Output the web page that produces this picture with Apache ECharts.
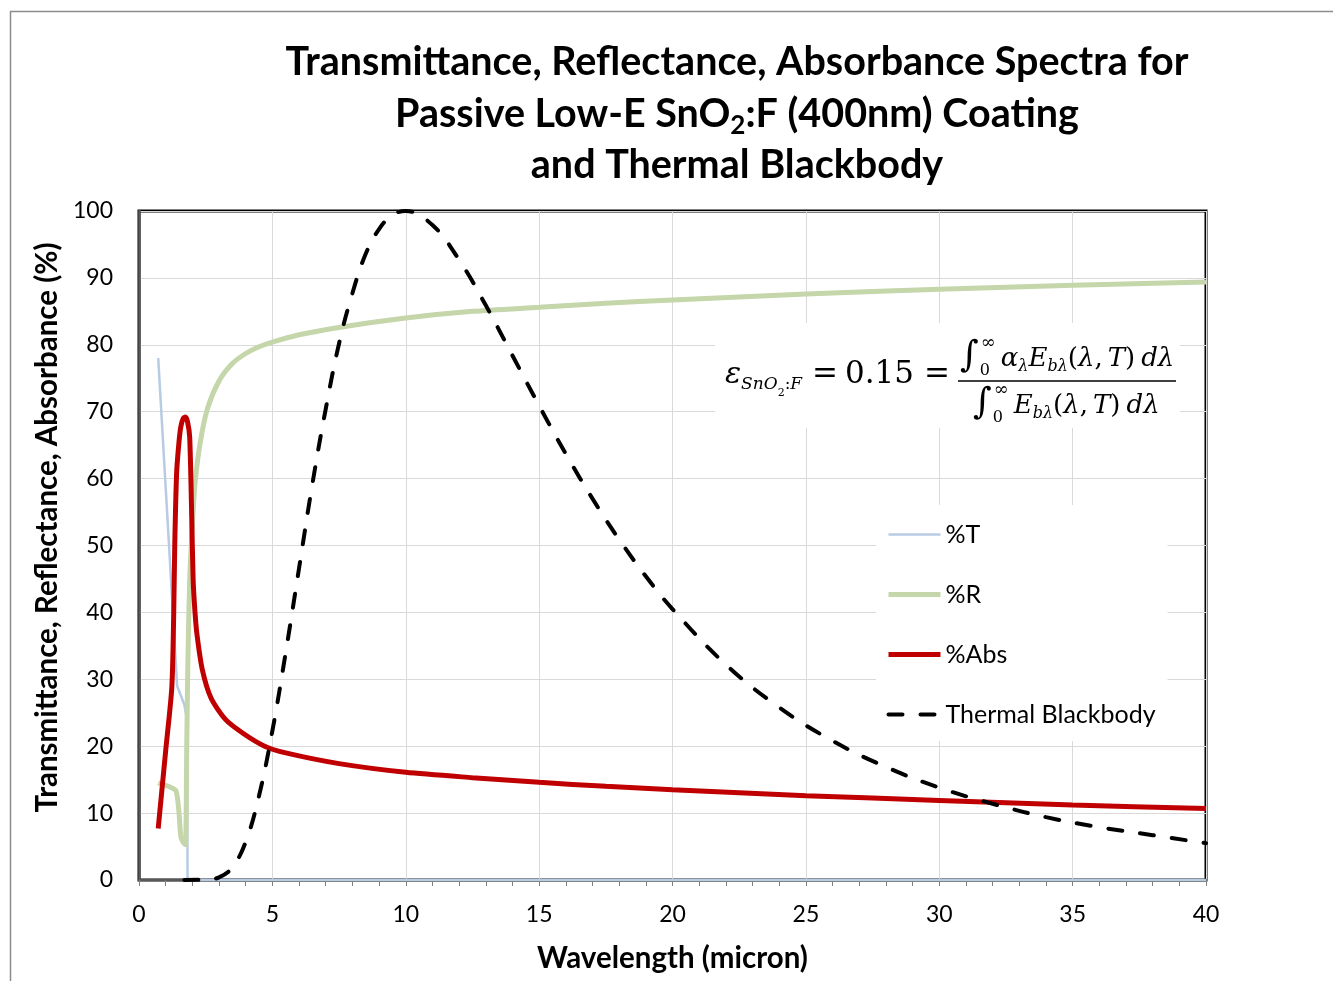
<!DOCTYPE html>
<html>
<head>
<meta charset="utf-8">
<script src="https://cdn.jsdelivr.net/npm/echarts@6/dist/echarts.min.js"></script>
<style>
  html, body { margin: 0; padding: 0; background: #fff; }
  #chart { width: 1333px; height: 981px; }
</style>
</head>
<body>
<div id="chart"></div>
<script>
// Spectra of a 400 nm SnO2:F low-E coating (wavelength in micron, values in %)
const tWave = [0.72, 1.43, 1.70, 1.80, 1.82, 10, 20, 30, 40];
const tPct  = [78.0, 29.0, 26.2, 24.0, 0, 0, 0, 0, 0];

const rWave = [0.72, 0.95, 1.16, 1.39, 1.50, 1.57, 1.66, 1.74, 1.79, 1.83, 1.90, 2.00, 2.10, 2.30, 2.57, 3.0, 3.5, 4.0, 4.5, 5.0, 6.0, 7.5, 10, 12.5, 15, 17.5, 20, 25, 30, 35, 40];
const rPct  = [14.5, 14.2, 13.9, 13.3, 10.0, 6.4, 5.6, 5.3, 20.0, 32.0, 44.8, 53.0, 59.3, 65.5, 70.5, 74.6, 77.2, 78.7, 79.7, 80.4, 81.5, 82.6, 84.0, 85.0, 85.6, 86.2, 86.7, 87.6, 88.3, 88.9, 89.4];

const aWave = [0.72, 1.00, 1.23, 1.30, 1.34, 1.41, 1.50, 1.57, 1.66, 1.74, 1.82, 1.90, 1.97, 2.03, 2.10, 2.17, 2.37, 2.70, 3.24, 3.91, 4.71, 5.5, 7.5, 10, 12.5, 15, 17.5, 20, 25, 30, 35, 40];
const aPct  = [7.7, 19.3, 28.8, 39.5, 50.0, 60.8, 65.5, 67.8, 69.0, 69.2, 68.5, 66.2, 55.5, 44.8, 40.0, 36.8, 31.5, 27.2, 24.0, 21.9, 20.0, 19.0, 17.4, 16.1, 15.3, 14.6, 14.0, 13.5, 12.6, 11.9, 11.2, 10.7];

// Thermal blackbody emission, scaled to 100 at its peak
const bbWave = [1.7, 2.5, 3, 3.5, 4, 4.5, 5, 5.5, 6, 6.5, 7, 7.5, 8, 8.5, 9, 9.5, 10, 11, 12, 13, 14, 15, 16, 17, 18, 19, 20, 22, 24, 26, 28, 30, 32, 34, 36, 38, 40];
const bbPct  = [0, 0.05, 0.4, 1.9, 5.7, 12.6, 22.3, 34.0, 46.6, 59.2, 70.4, 80.2, 87.7, 93.6, 97.3, 99.4, 100, 97.9, 92.7, 85.9, 78.4, 70.9, 63.7, 57.0, 50.9, 45.4, 40.5, 32.2, 25.8, 20.8, 16.9, 13.8, 11.4, 9.4, 7.9, 6.7, 5.5];

const seriesNames = ['%T', '%R', '%Abs', 'Thermal Blackbody'];
const titleLines = ['Transmittance, Reflectance, Absorbance Spectra for', 'Passive Low-E SnO', '2', ':F (400nm) Coating', 'and Thermal Blackbody'];
const xName = 'Wavelength (micron)';
const yName = 'Transmittance, Reflectance, Absorbance (%)';

const SANS = 'Lato, "Open Sans", sans-serif';
const MATH = '"DejaVu Serif", serif';

const pairs = (xs, ys) => xs.map((x, i) => [x, ys[i]]);

const measureCtx = document.createElement('canvas').getContext('2d');
function textWidth(str, size, family, style, weight) {
  measureCtx.font = `${style || 'normal'} ${weight || 'normal'} ${size}px ${family}`;
  return measureCtx.measureText(str).width;
}

// lay out pieces of text left to right; a piece flagged `stack` keeps the pen in place
function run(x0, yc, pieces, family, weight, z) {
  let x = x0;
  const els = [];
  pieces.forEach(p => {
    const style = p.it ? 'italic' : 'normal';
    x += p.pre || 0;
    els.push({
      type: 'text', x: x, y: yc + (p.dy || 0), z: z || 10,
      style: {
        text: p.t, fontSize: p.s, fontFamily: family, fontStyle: style,
        fontWeight: weight || 'normal', fill: '#000', align: 'left', verticalAlign: 'middle'
      }
    });
    if (!p.stack) x += textWidth(p.t, p.s, family, style, weight);
  });
  return { els, width: x - x0 };
}
function centered(cx, yc, pieces, family, weight) {
  const w = run(0, 0, pieces, family, weight).width;
  return run(cx - w / 2, yc, pieces, family, weight).els;
}

const graphics = [];

// outer frame
graphics.push({ type: 'rect', z: 0, shape: { x: 10.5, y: 11.5, width: 1400, height: 1000 },
  style: { fill: 'none', stroke: '#8c8c8c', lineWidth: 1.5 } });

// title
const TS = 39.5, TITLE_CX = 737;
graphics.push(...centered(TITLE_CX, 62, [{ t: titleLines[0], s: TS }], SANS, 'bold'));
graphics.push(...centered(TITLE_CX, 114, [
  { t: titleLines[1], s: TS }, { t: titleLines[2], s: 26, dy: 12 }, { t: titleLines[3], s: TS }
], SANS, 'bold'));
graphics.push(...centered(TITLE_CX, 165, [{ t: titleLines[4], s: TS }], SANS, 'bold'));

// emissivity relation on a white panel
graphics.push({ type: 'rect', z: 1, shape: { x: 715, y: 323, width: 465, height: 105 }, style: { fill: '#fff' } });
graphics.push(...run(725, 375, [
  { t: 'ε', s: 30, it: 1 }, { t: 'SnO', s: 17, it: 1, dy: 10 }, { t: '2', s: 11, dy: 18 },
  { t: ':', s: 17, dy: 10 }, { t: 'F', s: 17, it: 1, dy: 10 }
], MATH).els);
graphics.push(...run(812, 375, [{ t: '=', s: 31 }], MATH).els);
graphics.push(...run(845, 375, [{ t: '0.15', s: 31 }], MATH).els);
graphics.push(...run(924, 375, [{ t: '=', s: 31 }], MATH).els);
graphics.push({ type: 'line', z: 10, shape: { x1: 958, y1: 381, x2: 1176, y2: 381 }, style: { stroke: '#000', lineWidth: 1.6 } });
const tail = [{ t: '(', s: 26 }, { t: 'λ', s: 26, it: 1 }, { t: ',', s: 26 }, { t: 'T', s: 26, it: 1, pre: 5 }, { t: ')', s: 26 }, { t: 'dλ', s: 26, it: 1, pre: 6 }];
graphics.push(...run(960, 359, [
  { t: '∫', s: 36, dy: -2 }, { t: '0', s: 16, dy: 12, stack: 1, pre: 1 }, { t: '∞', s: 18, dy: -16, pre: 1 },
  { t: 'α', s: 26, it: 1, pre: 5 }, { t: 'λ', s: 16, it: 1, dy: 8 }, { t: 'E', s: 26, it: 1 }, { t: 'bλ', s: 16, it: 1, dy: 8 }
].concat(tail), MATH).els);
graphics.push(...run(973, 406, [
  { t: '∫', s: 36, dy: -2 }, { t: '0', s: 16, dy: 12, stack: 1, pre: 1 }, { t: '∞', s: 18, dy: -16, pre: 1 },
  { t: 'E', s: 26, it: 1, pre: 5 }, { t: 'bλ', s: 16, it: 1, dy: 8 }
].concat(tail), MATH).els);

const chart = echarts.init(document.getElementById('chart'), null, { renderer: 'canvas' });

const lineSeries = (name, data, color, width, extra) => Object.assign({
  name, type: 'line', data, showSymbol: false, symbol: 'none',
  lineStyle: { color, width }, itemStyle: { color },
  emphasis: { disabled: true }, animation: false
}, extra || {});

chart.setOption({
  animation: false,
  backgroundColor: '#fff',
  grid: { left: 139, right: 127, top: 211, bottom: 101, show: true, borderColor: '#000', borderWidth: 3, outerBoundsMode: 'none' },
  xAxis: {
    type: 'value', min: 0, max: 40, interval: 5,
    axisLine: { lineStyle: { color: '#595959', width: 2 } },
    axisTick: { show: true, length: 6, lineStyle: { color: '#7f7f7f' } },
    minorTick: { show: true, splitNumber: 5, length: 6, lineStyle: { color: '#7f7f7f' } },
    splitLine: { show: true, lineStyle: { color: '#d9d9d9', width: 1 } },
    axisLabel: { fontFamily: SANS, fontSize: 23, color: '#000', margin: 23 },
    name: xName, nameLocation: 'middle', nameGap: 63,
    nameTextStyle: { fontFamily: SANS, fontSize: 29.5, fontWeight: 'bold', color: '#000' }
  },
  yAxis: {
    type: 'value', min: 0, max: 100, interval: 10,
    axisLine: { show: true, lineStyle: { color: '#595959', width: 2.5 } },
    axisTick: { show: false },
    splitLine: { show: true, lineStyle: { color: '#d9d9d9', width: 1 } },
    axisLabel: { fontFamily: SANS, fontSize: 23, color: '#000', margin: 26 },
    name: yName, nameLocation: 'middle', nameGap: 72, nameRotate: 90,
    nameTextStyle: { fontFamily: SANS, fontSize: 29.5, fontWeight: 'bold', color: '#000', padding: [0, 0, 0, 36] }
  },
  legend: {
    data: [
      { name: seriesNames[0], lineStyle: { width: 2.5 } },
      { name: seriesNames[1], lineStyle: { width: 5 } },
      { name: seriesNames[2], lineStyle: { width: 5 } },
      { name: seriesNames[3], lineStyle: { width: 4 } }
    ],
    orient: 'vertical', left: 876, top: 505,
    itemWidth: 52, itemHeight: 14, itemGap: 35,
    padding: [17, 12, 14, 10], backgroundColor: '#fff',
    itemStyle: { opacity: 0 },
    textStyle: { fontFamily: SANS, fontSize: 25, lineHeight: 24, color: '#000' },
    selectedMode: false
  },
  graphic: graphics,
  series: [
    lineSeries(seriesNames[0], pairs(tWave, tPct), '#b7cbe4', 2.5),
    lineSeries(seriesNames[1], pairs(rWave, rPct), '#c4d6aa', 5, { smooth: 0.25 }),
    lineSeries(seriesNames[2], pairs(aWave, aPct), '#c00000', 5, { smooth: 0.25 }),
    lineSeries(seriesNames[3], pairs(bbWave, bbPct), '#000', 4, {
      smooth: 0.4,
      lineStyle: { color: '#000', width: 4, type: [14, 18], cap: 'round' }
    })
  ]
});
</script>
</body>
</html>
